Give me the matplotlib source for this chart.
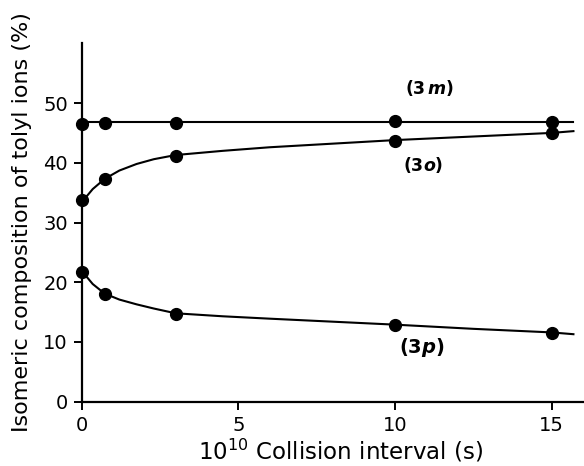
import matplotlib.pyplot as plt

# measured points (10^10 s, %)
interval = [0, 0.73, 3.0, 10, 15]
meta = [46.5, 46.7, 46.6, 47.0, 46.8]
ortho = [33.8, 37.3, 41.2, 43.7, 45.0]
para = [21.7, 18.1, 14.6, 12.9, 11.5]

# smooth curves as drawn in the original
curveX = [0, 0.35, 0.73, 1.2, 1.75, 2.3, 3.0, 4.5, 6, 8, 10, 12.5, 15, 15.7]
curveO = [33.4, 35.6, 37.3, 38.7, 39.8, 40.6, 41.3, 42.0, 42.6, 43.2, 43.8,
          44.4, 45.0, 45.3]
curveP = [21.9, 19.7, 18.1, 17.1, 16.3, 15.6, 14.8, 14.3, 13.9, 13.4, 12.9,
          12.2, 11.6, 11.3]
lineMX = [0, 15.7]
lineM = [46.8, 46.8]

xticks = [0, 5, 10, 15]
yticks = [0, 10, 20, 30, 40, 50]

fig = plt.figure(figsize=(5.84, 4.66), dpi=100)
ax = fig.add_axes([0.140, 0.138, 0.858, 0.769])

ax.plot(lineMX, lineM, color='black', lw=1.5)
ax.plot(curveX, curveO, color='black', lw=1.5)
ax.plot(curveX, curveP, color='black', lw=1.5)
for ys in (meta, ortho, para):
    ax.plot(interval, ys, 'o', color='black', ms=8.5, clip_on=False, zorder=3)

ax.set_xlim(0, 16)
ax.set_ylim(0, 60)
ax.set_xticks(xticks)
ax.set_yticks(yticks)
ax.spines['top'].set_visible(False)
ax.spines['right'].set_visible(False)
ax.spines['left'].set_linewidth(1.6)
ax.spines['bottom'].set_linewidth(1.6)
ax.tick_params(direction='out', length=6, width=1.4, labelsize=14, pad=4)

ax.set_ylabel('Isomeric composition of tolyl ions (%)', fontsize=16)
ax.yaxis.set_label_coords(-0.10, 0.5)
ax.set_xlabel(r'$10^{10}$ Collision interval (s)', fontsize=16.5)
ax.xaxis.set_label_coords(0.517, -0.10)

ax.text(11.1, 52.5, r'(3$\,\mathbfit{m}$)', fontsize=12.5, fontweight='bold',
        ha='center', va='center')
ax.text(10.9, 39.6, r'(3$\mathbfit{o}$)', fontsize=12.5, fontweight='bold',
        ha='center', va='center')
ax.text(10.85, 9.0, r'(3$\mathbfit{p}$)', fontsize=14, fontweight='bold',
        ha='center', va='center')

plt.savefig('out.png', dpi=100)
